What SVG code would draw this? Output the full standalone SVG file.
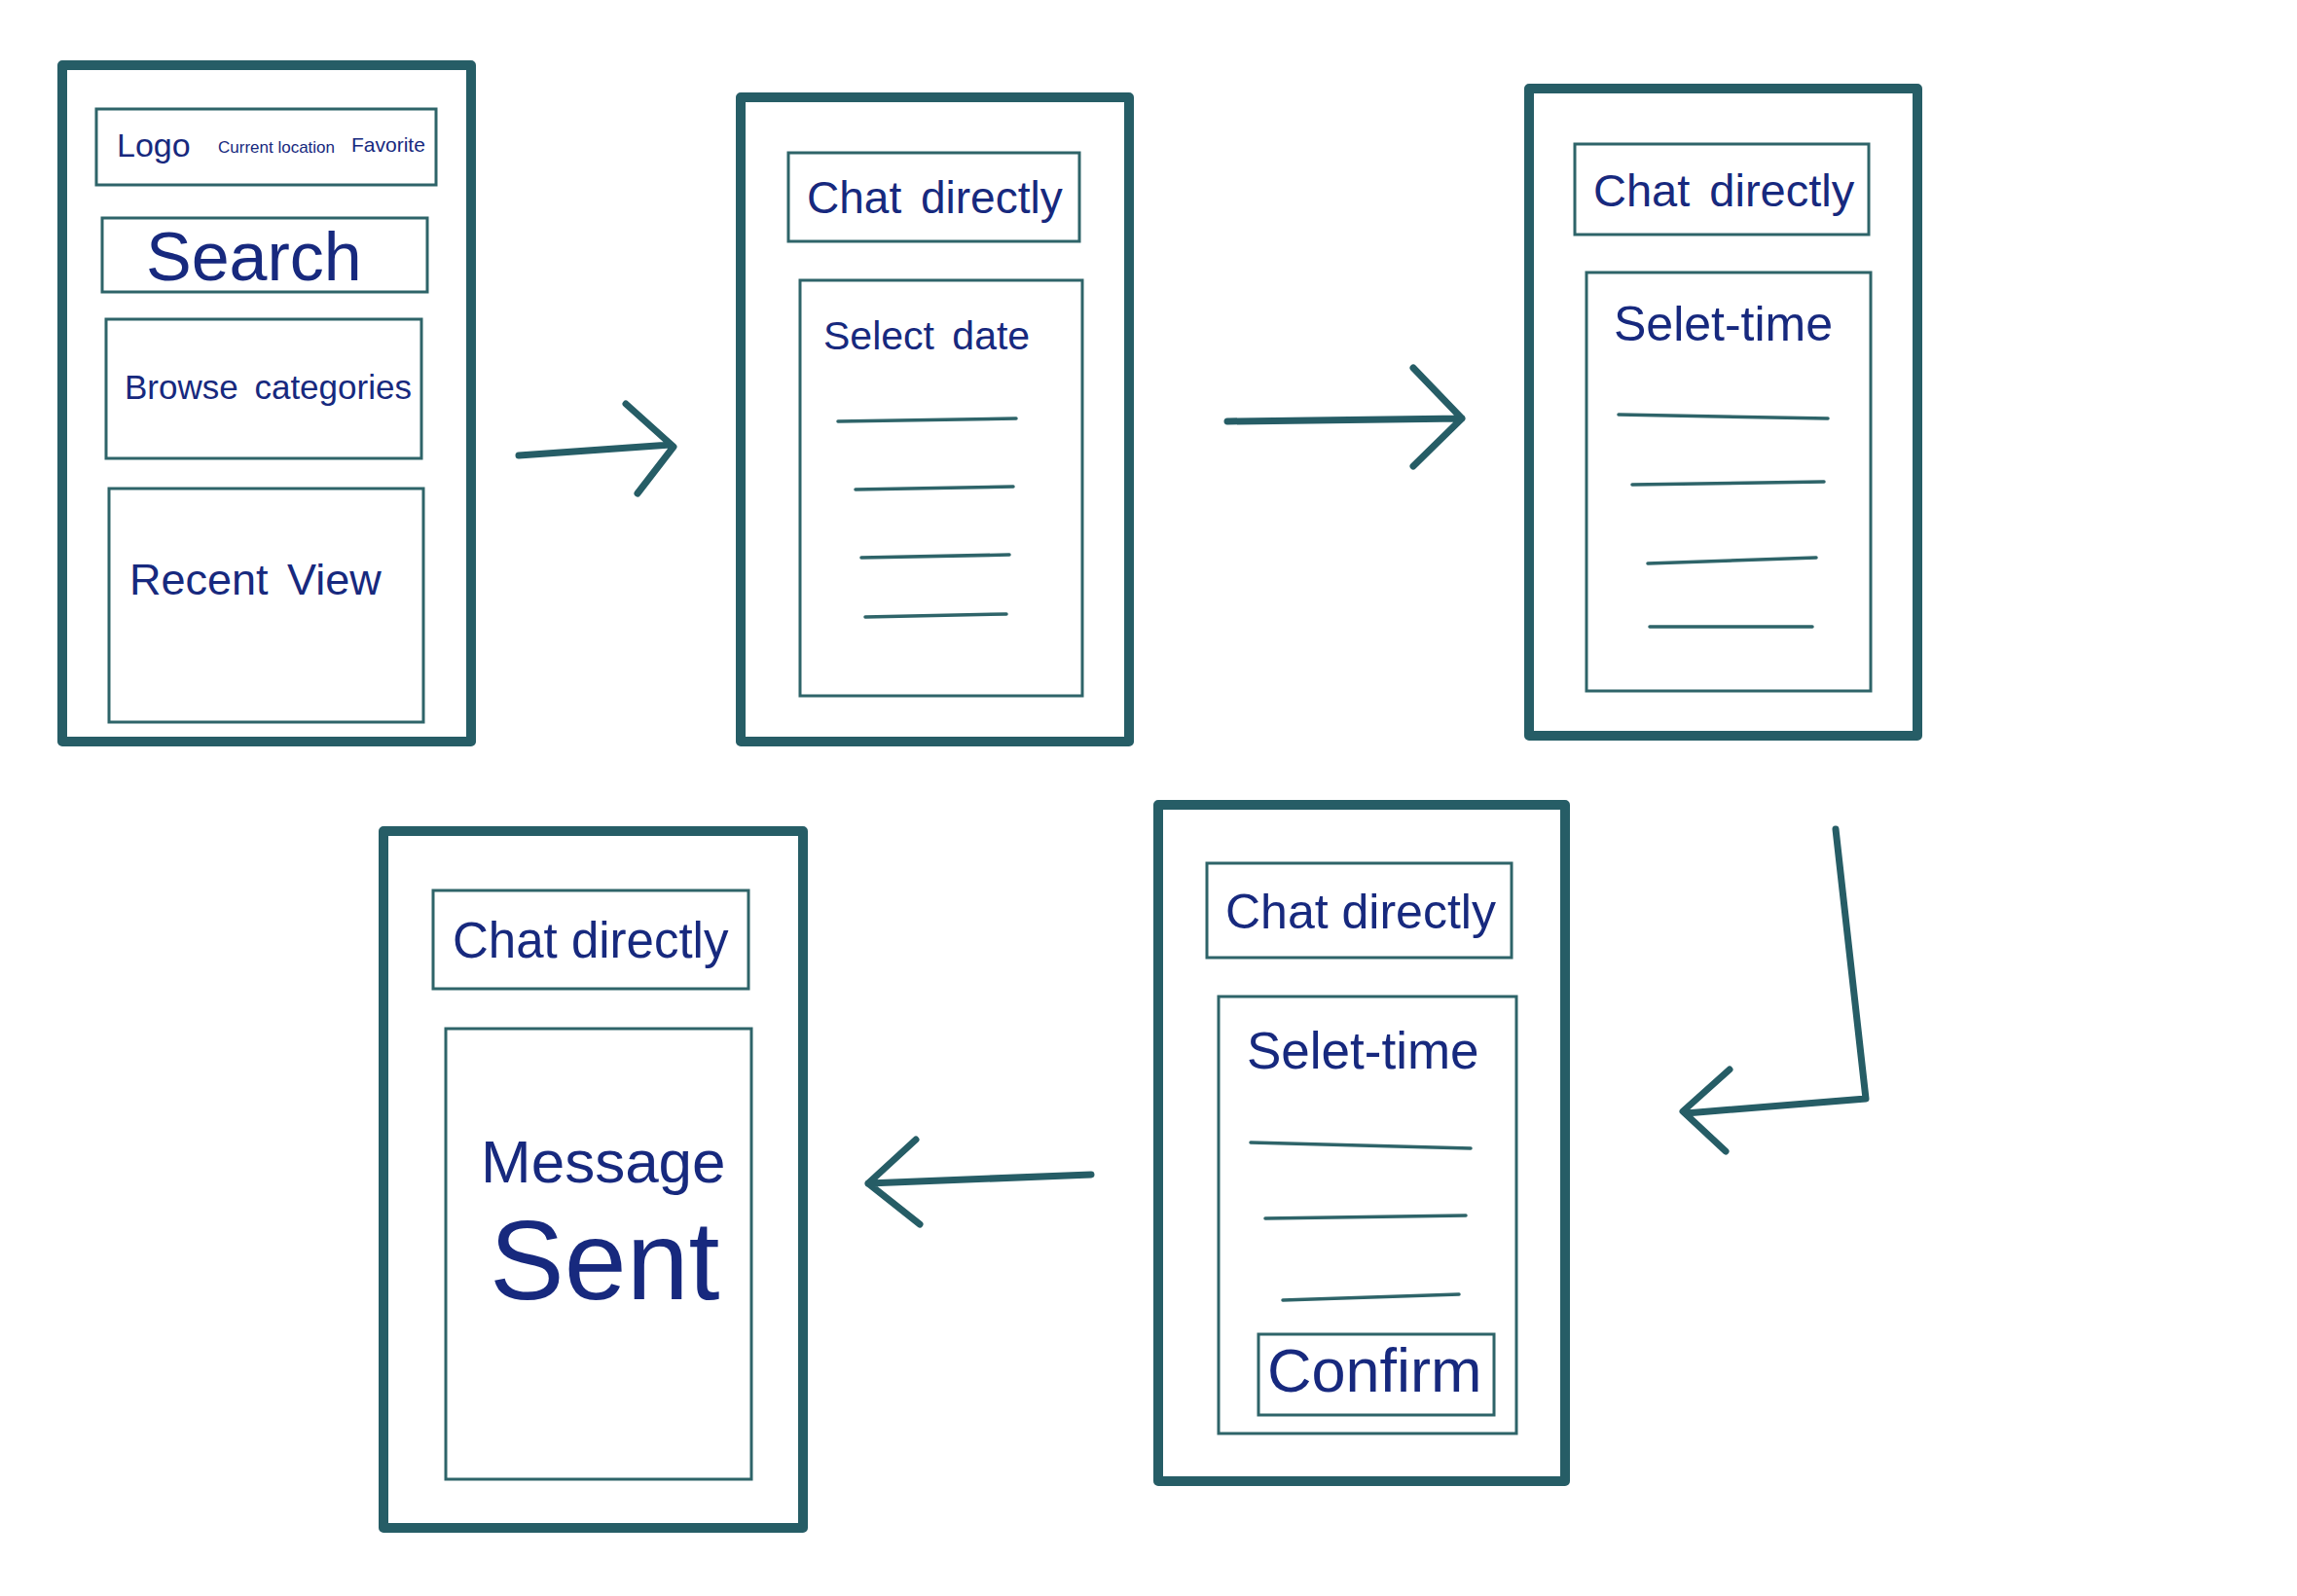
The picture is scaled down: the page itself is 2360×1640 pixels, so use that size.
<svg xmlns="http://www.w3.org/2000/svg" width="2360" height="1640" viewBox="0 0 2360 1640">
<style>
.frame{fill:none;stroke:#265d66;stroke-width:10;stroke-linejoin:round}
.box{fill:none;stroke:#2e6469;stroke-width:3}
.ln{fill:none;stroke:#2e6469;stroke-width:3.5;stroke-linecap:round}
.t{font-family:"Liberation Sans",Arial,sans-serif;fill:#17297e}
.ws{word-spacing:7px}
.arr{fill:none;stroke:#265d66;stroke-width:7;stroke-linecap:round;stroke-linejoin:round}
</style>
<rect width="2360" height="1640" fill="#ffffff"/>
<g id="screen-home">
<rect class="frame" x="64" y="67" width="420" height="695"/>
<rect class="box" x="99" y="112" width="349" height="78"/>
<text class="t" x="120" y="161" font-size="34">Logo</text>
<text class="t" x="224" y="157" font-size="17">Current location</text>
<text class="t" x="361" y="156" font-size="21">Favorite</text>
<rect class="box" x="105" y="224" width="334" height="76"/>
<text class="t" x="150" y="288" font-size="70">Search</text>
<rect class="box" x="109" y="328" width="324" height="143"/>
<text class="t ws" x="128" y="410" font-size="35">Browse categories</text>
<rect class="box" x="112" y="502" width="323" height="240"/>
<text class="t ws" x="133" y="611" font-size="45">Recent View</text>
</g>
<g id="screen-date">
<rect class="frame" x="761" y="100" width="399" height="662"/>
<rect class="box" x="810" y="157" width="299" height="91"/>
<text class="t ws" x="829" y="219" font-size="46">Chat directly</text>
<rect class="box" x="822" y="288" width="290" height="427"/>
<text class="t ws" x="846" y="359" font-size="41">Select date</text>
<path class="ln" d="M861 433L1044 430M879 503L1041 500M885 573L1037 570M889 634L1034 631"/>
</g>
<g id="screen-time">
<rect class="frame" x="1571" y="91" width="399" height="665"/>
<rect class="box" x="1618" y="148" width="302" height="93"/>
<text class="t ws" x="1637" y="212" font-size="47">Chat directly</text>
<rect class="box" x="1630" y="280" width="292" height="430"/>
<text class="t" x="1658" y="350" font-size="50">Selet-time</text>
<path class="ln" d="M1663 426L1878 430M1677 498L1874 495M1693 579L1866 573M1695 644L1862 644"/>
</g>
<g id="screen-confirm">
<rect class="frame" x="1190" y="827" width="418" height="695"/>
<rect class="box" x="1240" y="887" width="313" height="97"/>
<text class="t" x="1259" y="954" font-size="50">Chat directly</text>
<rect class="box" x="1252" y="1024" width="306" height="449"/>
<text class="t" x="1281" y="1098" font-size="53">Selet-time</text>
<path class="ln" d="M1285 1174L1511 1180M1300 1252L1506 1249M1318 1336L1499 1330"/>
<rect class="box" x="1293" y="1371" width="242" height="83"/>
<text class="t" x="1302" y="1430" font-size="63">Confirm</text>
</g>
<g id="screen-sent">
<rect class="frame" x="394" y="854" width="431" height="716"/>
<rect class="box" x="445" y="915" width="324" height="101"/>
<text class="t" x="465" y="984" font-size="51">Chat directly</text>
<rect class="box" x="458" y="1057" width="314" height="463"/>
<text class="t" x="494" y="1215" font-size="62">Message</text>
<text class="t" x="503" y="1335" font-size="115" fill="#0c2677">Sent</text>
</g>
<g id="connectors">
<path class="arr" d="M533 468L689 457M643 415L692 459L655 507"/>
<path class="arr" d="M1261 433L1502 430M1452 378L1502 430L1452 479"/>
<path class="arr" d="M1886 852L1917 1129L1732 1144M1777 1099L1729 1142L1773 1183"/>
<path class="arr" d="M1121 1207L892 1216M941 1171L892 1216L945 1258"/>
</g>
</svg>
